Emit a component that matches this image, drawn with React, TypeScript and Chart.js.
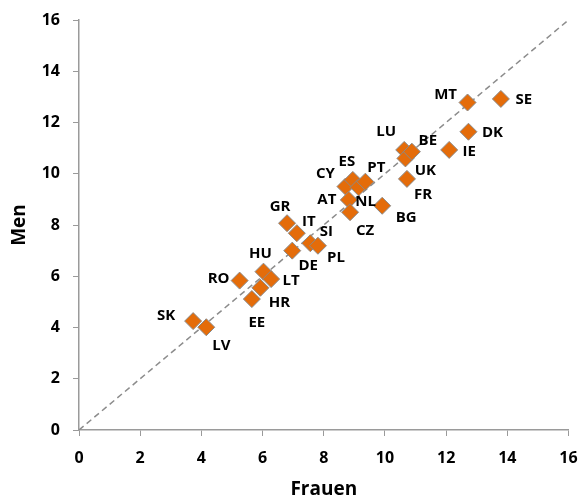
import React, { useEffect, useRef } from "react";
import { Chart, registerables } from "chart.js";

Chart.register(...registerables);

const countries = ["SK","LV","RO","EE","HR","HU","LT","GR","DE","IT","SI","PL","CY","AT","CZ","ES","NL","PT","BG","LU","UK","FR","BE","IE","MT","DK","SE"];
const frauen = [3.73,4.16,5.25,5.65,5.93,6.03,6.28,6.80,6.97,7.12,7.56,7.81,8.71,8.82,8.86,8.95,9.14,9.36,9.91,10.63,10.67,10.72,10.88,12.10,12.70,12.73,13.79];
const men = [4.25,4.01,5.83,5.11,5.55,6.18,5.89,8.07,7.00,7.68,7.29,7.19,9.50,8.98,8.50,9.76,9.47,9.69,8.75,10.93,10.60,9.80,10.86,10.93,12.78,11.64,12.92];
const diagonal = [0, 16];
const axisMin = 0;
const axisMax = 16;
const tickStep = 2;
const xTitle = "Frauen";
const yTitle = "Men";

// label placement (pixel offsets from the marker), layout only
const labelOffsets: Record<string, [number, number]> = {
  SK: [-27, -5], LV: [15, 18], RO: [-21, -2], EE: [5, 24], HR: [19, 15], HU: [-3, -18],
  LT: [20, 2], GR: [-7, -16], DE: [16, 15], IT: [12, -11], SI: [16, -11], PL: [18, 12],
  CY: [-20, -13], AT: [-22, 0], CZ: [15, 19], ES: [-6, -18], NL: [7, 14], PT: [11, -14],
  BG: [24, 12], LU: [-18, -18], UK: [20, 12], FR: [16, 16], BE: [16, -11], IE: [20, 2],
  MT: [-22, -8], DK: [24, 1], SE: [23, 1],
};

const FONT = "'Open Sans', 'DejaVu Sans', sans-serif";

const labelPlugin = {
  id: "pointLabels",
  afterDatasetsDraw(chart: any) {
    const meta = chart.getDatasetMeta(0);
    const ctx = chart.ctx;
    ctx.save();
    ctx.font = `bold 15px ${FONT}`;
    ctx.fillStyle = "#000";
    ctx.textAlign = "center";
    ctx.textBaseline = "middle";
    meta.data.forEach((pt: any, i: number) => {
      const name = countries[i];
      const off = labelOffsets[name] || [15, 0];
      ctx.fillText(name, pt.x + off[0], pt.y + off[1]);
    });
    ctx.restore();
  },
};

export default function App() {
  const ref = useRef<HTMLCanvasElement>(null);
  useEffect(() => {
    document.body.style.margin = "0";
    const canvas = ref.current!;
    const axisCommon = (title: string) => ({
      type: "linear" as const,
      min: axisMin,
      max: axisMax,
      ticks: {
        stepSize: tickStep,
        color: "#000",
        font: { family: FONT, size: 16, weight: "bold" as const },
      },
      grid: {
        drawOnChartArea: false,
        drawTicks: true,
        tickLength: 6,
        color: "#9a9a9a",
      },
      border: { color: "#9a9a9a", width: 1.5 },
      title: {
        display: true,
        text: title,
        color: "#000",
        font: { family: FONT, size: 19, weight: "bold" as const, lineHeight: 1 },
      },
    });
    const xScale: any = axisCommon(xTitle);
    xScale.ticks.padding = 13;
    xScale.title.padding = { top: 0, bottom: 0 };
    xScale.afterFit = (s: any) => {
      s.height = 69;
      s.paddingLeft = 0;
      s.paddingRight = 0;
    };
    const yScale: any = axisCommon(yTitle);
    yScale.ticks.padding = 13;
    yScale.title.padding = { top: 10, bottom: 0 };
    yScale.afterFit = (s: any) => {
      s.width = 79;
      s.paddingTop = 0;
      s.paddingBottom = 0;
    };
    const chart = new Chart(canvas, {
      type: "scatter",
      data: {
        datasets: [
          {
            label: "points",
            data: frauen.map((x, i) => ({ x, y: men[i] })),
            pointStyle: "rectRot",
            pointRadius: 8.5,
            pointHoverRadius: 8.5,
            backgroundColor: "#E46C0A",
            borderColor: "#8a8a8a",
            borderWidth: 1,
          },
          {
            label: "diag",
            type: "line",
            data: diagonal.map((v) => ({ x: v, y: v })),
            borderColor: "#8c8c8c",
            borderWidth: 1.5,
            borderDash: [6, 4],
            pointRadius: 0,
            fill: false,
          } as any,
        ],
      },
      options: {
        animation: false,
        responsive: false,
        maintainAspectRatio: false,
        layout: { padding: { left: 0, right: 8.5, top: 20, bottom: 0 } },
        plugins: { legend: { display: false }, tooltip: { enabled: false } },
        scales: { x: xScale, y: yScale },
      },
      plugins: [labelPlugin],
    });
    return () => chart.destroy();
  }, []);
  return (
    <div style={{ width: 578, height: 499 }}>
      <canvas ref={ref} width={578} height={499} style={{ display: "block" }} />
    </div>
  );
}
